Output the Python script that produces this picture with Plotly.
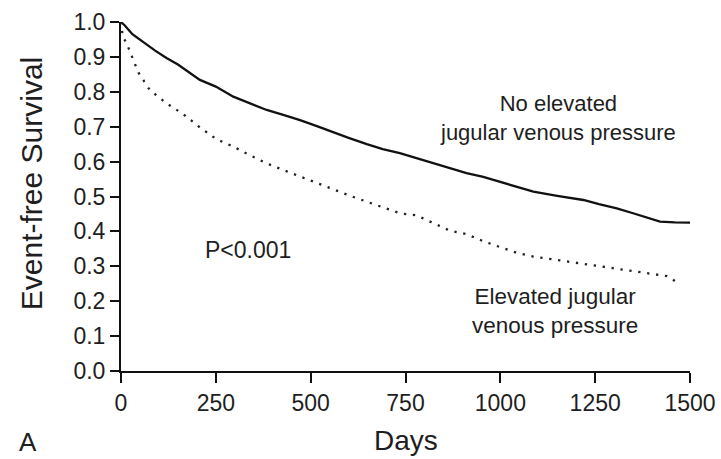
import plotly.graph_objects as go

# Kaplan-Meier event-free survival by jugular venous pressure status
days_no_jvp = [0, 10, 30, 59, 90, 120, 150, 208, 250, 296, 340, 384, 430, 472,
               520, 560, 600, 648, 690, 735, 780, 823, 867, 911, 955, 999, 1040,
               1087, 1150, 1219, 1260, 1307, 1350, 1390, 1421, 1460, 1500]
surv_no_jvp = [1.0, 0.99, 0.965, 0.941, 0.918, 0.897, 0.878, 0.834, 0.815, 0.786,
               0.766, 0.748, 0.733, 0.719, 0.700, 0.683, 0.668, 0.650, 0.636, 0.624,
               0.610, 0.595, 0.581, 0.567, 0.556, 0.542, 0.528, 0.514, 0.502, 0.490,
               0.478, 0.466, 0.452, 0.438, 0.428, 0.426, 0.425]

days_jvp = [0, 5, 13, 24, 46, 76, 120, 164, 208, 252, 296, 340, 384, 430, 472,
            516, 560, 604, 648, 690, 735, 779, 823, 867, 911, 955, 999, 1040,
            1087, 1150, 1219, 1260, 1307, 1350, 1395, 1439, 1455, 1466]
surv_jvp = [1.0, 0.955, 0.944, 0.915, 0.855, 0.805, 0.767, 0.736, 0.698, 0.664,
            0.643, 0.618, 0.595, 0.575, 0.557, 0.538, 0.519, 0.502, 0.485, 0.468,
            0.452, 0.446, 0.423, 0.402, 0.392, 0.372, 0.355, 0.340, 0.328, 0.318,
            0.308, 0.302, 0.294, 0.287, 0.280, 0.272, 0.262, 0.253]

x_ticks = [0, 250, 500, 750, 1000, 1250, 1500]
y_ticks = [0.0, 0.1, 0.2, 0.3, 0.4, 0.5, 0.6, 0.7, 0.8, 0.9, 1.0]

FONT = "Liberation Sans, Arial, Helvetica, sans-serif"
TXT = "#1e1e1e"

fig = go.Figure()
fig.add_trace(go.Scatter(x=days_no_jvp, y=surv_no_jvp, mode="lines",
                         line=dict(color="#111111", width=2.3),
                         showlegend=False))
fig.add_trace(go.Scatter(x=days_jvp, y=surv_jvp, mode="lines",
                         line=dict(color="#222222", width=2.3, dash="2.3px,6.7px"),
                         showlegend=False))

axis_common = dict(showgrid=False, zeroline=False, showline=True,
                   automargin=False,
                   linecolor="#111111", linewidth=2, ticks="outside",
                   tickcolor="#111111", tickwidth=1.5,
                   tickfont=dict(family=FONT, size=23, color=TXT))

fig.update_xaxes(range=[0, 1500], tickvals=x_ticks, ticklen=10, **axis_common)
fig.update_yaxes(range=[0, 1.0], tickvals=y_ticks, tickformat=".1f",
                 ticklen=9, **axis_common)

def label(text, x, y, size=23, xref="x", yref="y", **kw):
    fig.add_annotation(text=text, x=x, y=y, xref=xref, yref=yref,
                       showarrow=False, xanchor="center", yanchor="middle",
                       font=dict(family=FONT, size=size, color=TXT), **kw)

label("No elevated<br>jugular venous pressure", 1153, 0.726, size=22)
label("Elevated jugular<br>venous pressure", 1144, 0.171, size=22.5)
label("P&lt;0.001", 335, 0.347)

label("Event-free Survival", -0.156, 0.536, size=30, xref="paper",
      yref="paper", textangle=-90)
label("Days", 0.501, -0.200, size=28, xref="paper", yref="paper")
label("A", -0.164, -0.203, size=26, xref="paper", yref="paper")

fig.update_layout(width=721, height=459,
                  margin=dict(l=121, r=31, t=22, b=88, autoexpand=False),
                  paper_bgcolor="white", plot_bgcolor="white",
                  font=dict(family=FONT, color=TXT))

fig.write_html("out.html")
